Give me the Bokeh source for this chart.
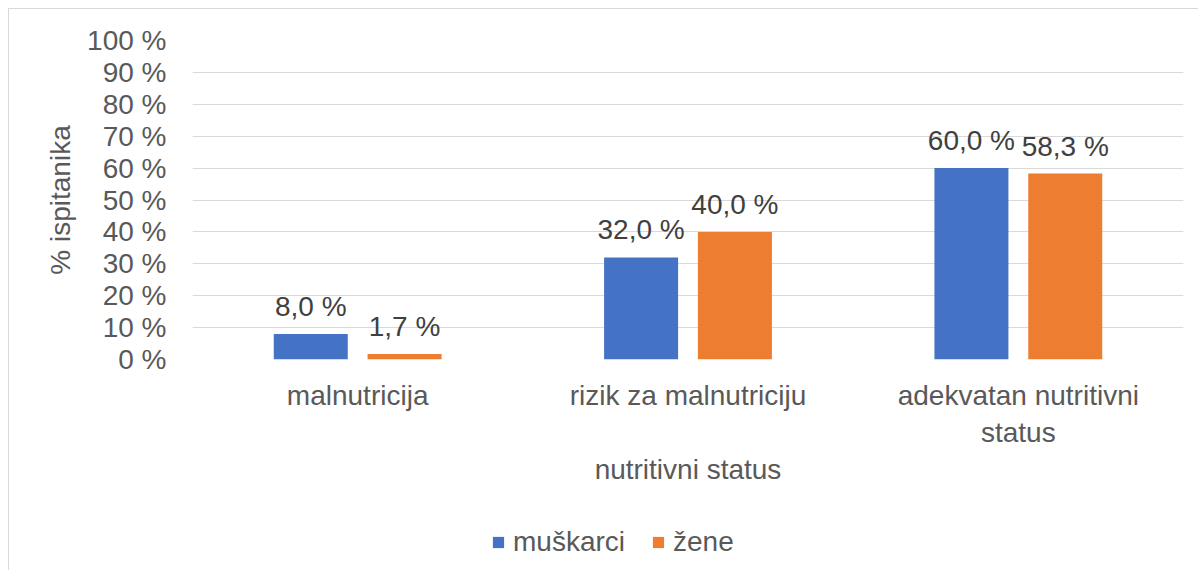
from bokeh.plotting import figure
from bokeh.layouts import column
from bokeh.models import (FactorRange, ColumnDataSource, LabelSet, Legend, LegendItem,
                          FixedTicker, PrintfTickFormatter)
from bokeh.transform import dodge
from bokeh.core.properties import value
from bokeh.embed import file_html
from bokeh.resources import INLINE

categories = ["malnutricija", "rizik za malnutriciju", "adekvatan nutritivni\nstatus"]
muskarci = [8.0, 32.0, 60.0]
zene = [1.7, 40.0, 58.3]
y_ticks = [0, 10, 20, 30, 40, 50, 60, 70, 80, 90, 100]
series_names = ["muškarci", "žene"]
colors = ["#4472C4", "#ED7D31"]

FONT = "Liberation Sans"

def fmt(v):
    return f"{v:.1f}".replace(".", ",") + " %"

src = ColumnDataSource(dict(
    cat=categories,
    m=muskarci,
    z=zene,
    m_lab=[fmt(v) for v in muskarci],
    z_lab=[fmt(v) for v in zene],
))

p = figure(x_range=FactorRange(*categories, range_padding=0), y_range=(0, 100),
           width=1190, height=482, output_backend="svg", toolbar_location=None,
           min_border_left=183, min_border_right=16, min_border_top=31, min_border_bottom=132)
p.styles = {"border-left": "1px solid #d9d9d9", "border-top": "1px solid #d9d9d9"}
p.outline_line_color = None
p.background_fill_color = "white"
p.border_fill_color = "white"

off = 0.142
bw = 0.224
r1 = p.vbar(x=dodge("cat", -off, range=p.x_range), top="m", width=bw, source=src,
            fill_color=colors[0], line_color=None)
r2 = p.vbar(x=dodge("cat", off, range=p.x_range), top="z", width=bw, source=src,
            fill_color=colors[1], line_color=None)

for field, o, yf in (("m_lab", -off, "m"), ("z_lab", off, "z")):
    lab = LabelSet(x=dodge("cat", o, range=p.x_range), y=yf, text=field, source=src,
                   text_align="center", text_baseline="alphabetic", y_offset=18,
                   text_font=value(FONT), text_font_size=value("28px"), text_color="#404040")
    p.add_layout(lab)

# axes
p.yaxis.ticker = FixedTicker(ticks=y_ticks)
p.yaxis.formatter = PrintfTickFormatter(format="%d %%")
for ax in (p.xaxis[0], p.yaxis[0]):
    ax.axis_line_color = None
    ax.major_tick_line_color = None
    ax.minor_tick_line_color = None
    ax.major_tick_out = 0
    ax.major_tick_in = 0
    ax.major_label_text_font = FONT
    ax.major_label_text_font_size = "28px"
    ax.major_label_text_color = "#595959"
    ax.axis_label_text_font = FONT
    ax.axis_label_text_font_size = "28px"
    ax.axis_label_text_color = "#595959"
    ax.axis_label_text_font_style = "normal"

p.yaxis.major_label_standoff = 26
p.yaxis.axis_label = "% ispitanika"
p.yaxis.axis_label_standoff = 8
p.xaxis.major_label_standoff = 20
p.xaxis.axis_label = "nutritivni status"
p.xaxis.axis_label_standoff = 3

p.xgrid.grid_line_color = None
p.ygrid.grid_line_color = "#d9d9d9"
p.ygrid.grid_line_width = 1

# legend in a separate strip below the chart (its frame aligns with the chart's frame)
leg = figure(x_range=(0, 1), y_range=(0, 1), width=1190, height=80,
             output_backend="svg", toolbar_location=None,
             min_border_left=0, min_border_right=0, min_border_top=0, min_border_bottom=0)
leg.styles = {"border-left": "1px solid #d9d9d9"}
leg.axis.visible = False
leg.grid.grid_line_color = None
leg.outline_line_color = None
# legend key glyphs: single points placed outside the visible range
d1 = leg.rect(x=[-10], y=[-10], width=1, height=1, fill_color=colors[0], line_color=None)
d2 = leg.rect(x=[-10], y=[-10], width=1, height=1, fill_color=colors[1], line_color=None)
legend = Legend(items=[LegendItem(label=series_names[0], renderers=[d1]),
                       LegendItem(label=series_names[1], renderers=[d2])],
                orientation="horizontal", location=(299, 12),
                glyph_width=14, glyph_height=14, label_standoff=8, spacing=26,
                padding=0, margin=0, border_line_color=None, background_fill_alpha=0,
                label_text_font=FONT, label_text_font_size="28px", label_text_color="#595959")
leg.add_layout(legend, "center")

layout = column(p, leg, spacing=0)
layout.styles = {"margin-left": "8px", "margin-top": "8px"}
open("out.html", "w").write(file_html(layout, INLINE))
